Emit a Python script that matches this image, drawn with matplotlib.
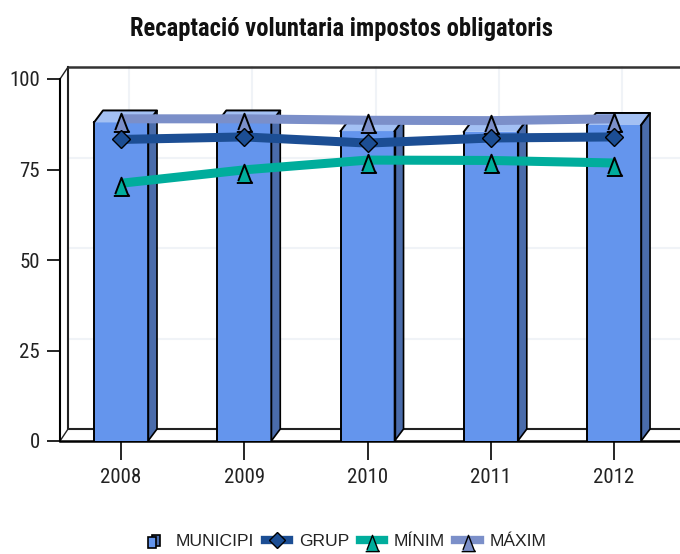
import numpy as np
import matplotlib.pyplot as plt
from matplotlib.legend_handler import HandlerBase
from matplotlib.lines import Line2D
from matplotlib.patches import Polygon, Rectangle
from matplotlib.transforms import ScaledTranslation

years = ['2008', '2009', '2010', '2011', '2012']
municipi = [88.0, 88.0, 85.6, 85.4, 87.3]
grup = [83.3, 84.0, 82.3, 83.7, 84.0]
minim = [71.2, 74.9, 77.6, 77.5, 76.8]
maxim = [89.0, 89.0, 88.6, 88.5, 89.0]
yticks = [0, 25, 50, 75, 100]

BAR = '#6495ed'
BAR_SIDE = '#4a6cab'
BAR_TOP = '#a3c0f3'
GRUP = '#1c4e94'
MINIM = '#00ad9c'
MAXIM = '#7b8fc9'
NARROW = ['Roboto Condensed', 'Archivo Narrow', 'Liberation Sans']

# triangle sits low on the line, with a small flange at its base
tri = [(-8, -13), (8, -13), (6.5, -11), (0, 6), (-6.5, -11)]


class CubeHandler(HandlerBase):
    def create_artists(self, legend, orig_handle, xdescent, ydescent, width, height, fontsize, trans):
        x0 = width - 13
        back = Rectangle((x0 + 2.5, 0), 6, 8, fc=BAR_SIDE, ec='black', lw=1.2, transform=trans)
        front = Rectangle((x0, -2), 6, 8, fc=BAR, ec='black', lw=1.2, transform=trans)
        return [back, front]


fig = plt.figure(figsize=(6.8, 5.54), dpi=100)
ax = fig.add_axes([60 / 680, 1 - 441 / 554, 620 / 680, 362 / 554])
ax.set_xlim(-0.495, 4.535)
ax.set_ylim(0, 100)

# depth of the fake 3d box
back = ax.transData + ScaledTranslation(8 / 100, 12 / 100, fig.dpi_scale_trans)
back_ax = ax.transAxes + ScaledTranslation(8 / 100, 12 / 100, fig.dpi_scale_trans)
bar_back = ax.transData + ScaledTranslation(9 / 100, 12 / 100, fig.dpi_scale_trans)

# grid on the back wall
for v in yticks[1:-1]:
    ax.plot([0, 1], [v / 100, v / 100], color='#f0f3f7', lw=1.5, transform=back_ax, clip_on=False, zorder=1)
for i in range(len(years)):
    ax.plot([i, i], [0, 100], color='#f0f3f7', lw=1.5, transform=back, clip_on=False, zorder=1)

# walls and floor
ax.plot([0, 0, 1], [1, 0, 0], color='#222222', lw=1.5, transform=back_ax, clip_on=False, zorder=2)
ax.plot([0, 1], [1, 1], color='#333333', lw=1.8, transform=back_ax, clip_on=False, zorder=2)
ax.plot([-0.495, -0.43], [0, 3.3], color='#222222', lw=1, clip_on=False, zorder=2)
ax.plot([-0.495, -0.43], [100, 103.3], color='#222222', lw=1, clip_on=False, zorder=2)

# bars with their side and top faces
width = 0.438
x = np.arange(len(years))
ax.bar(x, municipi, width, color=BAR, lw=0, zorder=3)
for i, v in enumerate(municipi):
    l, r = i - width / 2, i + width / 2
    bl = ax.transData.inverted().transform(bar_back.transform((l, v)))
    br = ax.transData.inverted().transform(bar_back.transform((r, v)))
    b0 = ax.transData.inverted().transform(bar_back.transform((r, 0)))
    ax.add_patch(Polygon([(r, 0), (r, v), br, b0], fc=BAR_SIDE, ec='black', lw=1.2, zorder=3, clip_on=False))
    ax.add_patch(Polygon([(l, v), (r, v), br, bl], fc=BAR_TOP, ec='none', zorder=3, clip_on=False))
    ax.plot([l, bl[0], br[0], r], [v, bl[1], br[1], v], color='black', lw=1.4, zorder=3, clip_on=False)
    ax.plot([l, l], [0, v], color='black', lw=1.4, zorder=3)
    ax.plot([r, r], [0, v], color='black', lw=1.0, zorder=3)

# lines
ax.plot(x, maxim, color=MAXIM, lw=6.5, zorder=4, solid_capstyle='butt')
ax.plot(x, grup, color=GRUP, lw=6.5, zorder=5, solid_capstyle='butt')
ax.plot(x, minim, color=MINIM, lw=6.5, zorder=6, solid_capstyle='butt')
ax.plot(x, maxim, ls='none', marker=tri, ms=18, mfc=MAXIM, mec='black', mew=1.4, zorder=7)
ax.plot(x, grup, ls='none', marker='D', ms=9, mfc=GRUP, mec='black', mew=1, zorder=7)
ax.plot(x, minim, ls='none', marker=tri, ms=18, mfc=MINIM, mec='black', mew=1.4, zorder=7)

for s in ['top', 'right']:
    ax.spines[s].set_visible(False)
ax.spines['left'].set_linewidth(1.5)
ax.spines['bottom'].set_linewidth(1.8)
ax.set_xticks(x)
ax.set_xticklabels(years)
ax.set_yticks(yticks)
ax.tick_params(axis='x', length=13.5, width=1.2, pad=6, labelsize=15, labelcolor='#222222')
ax.tick_params(axis='y', length=9.5, width=1.2, pad=5, labelsize=15, labelcolor='#222222')
for t in ax.get_xticklabels() + ax.get_yticklabels():
    t.set_family(NARROW)

fig.text(341 / 680, 1 - 29 / 554, 'Recaptació voluntaria impostos obligatoris', ha='center', va='center',
         fontsize=17.7, fontweight='bold', family=NARROW, color='#111111')

handles = [
    Rectangle((0, 0), 1, 1, fc=BAR),
    Line2D([], [], color=GRUP, lw=6, marker='D', ms=8, mfc=GRUP, mec='black'),
    Line2D([], [], color=MINIM, lw=6, marker=tri, ms=16, mfc=MINIM, mec='black'),
    Line2D([], [], color=MAXIM, lw=6, marker=tri, ms=16, mfc=MAXIM, mec='black'),
]
fig.legend(handles, ['MUNICIPI', 'GRUP', 'MÍNIM', 'MÁXIM'], loc='center', bbox_to_anchor=(344 / 680, 1 - 541 / 554),
           ncol=4, frameon=False, numpoints=1, borderpad=0, handlelength=1.4, handletextpad=0.55,
           columnspacing=0.6, prop={'family': 'Liberation Sans', 'size': 12.6}, labelcolor='#222222',
           handler_map={Rectangle: CubeHandler()})

fig.savefig('out.png', dpi=100)
